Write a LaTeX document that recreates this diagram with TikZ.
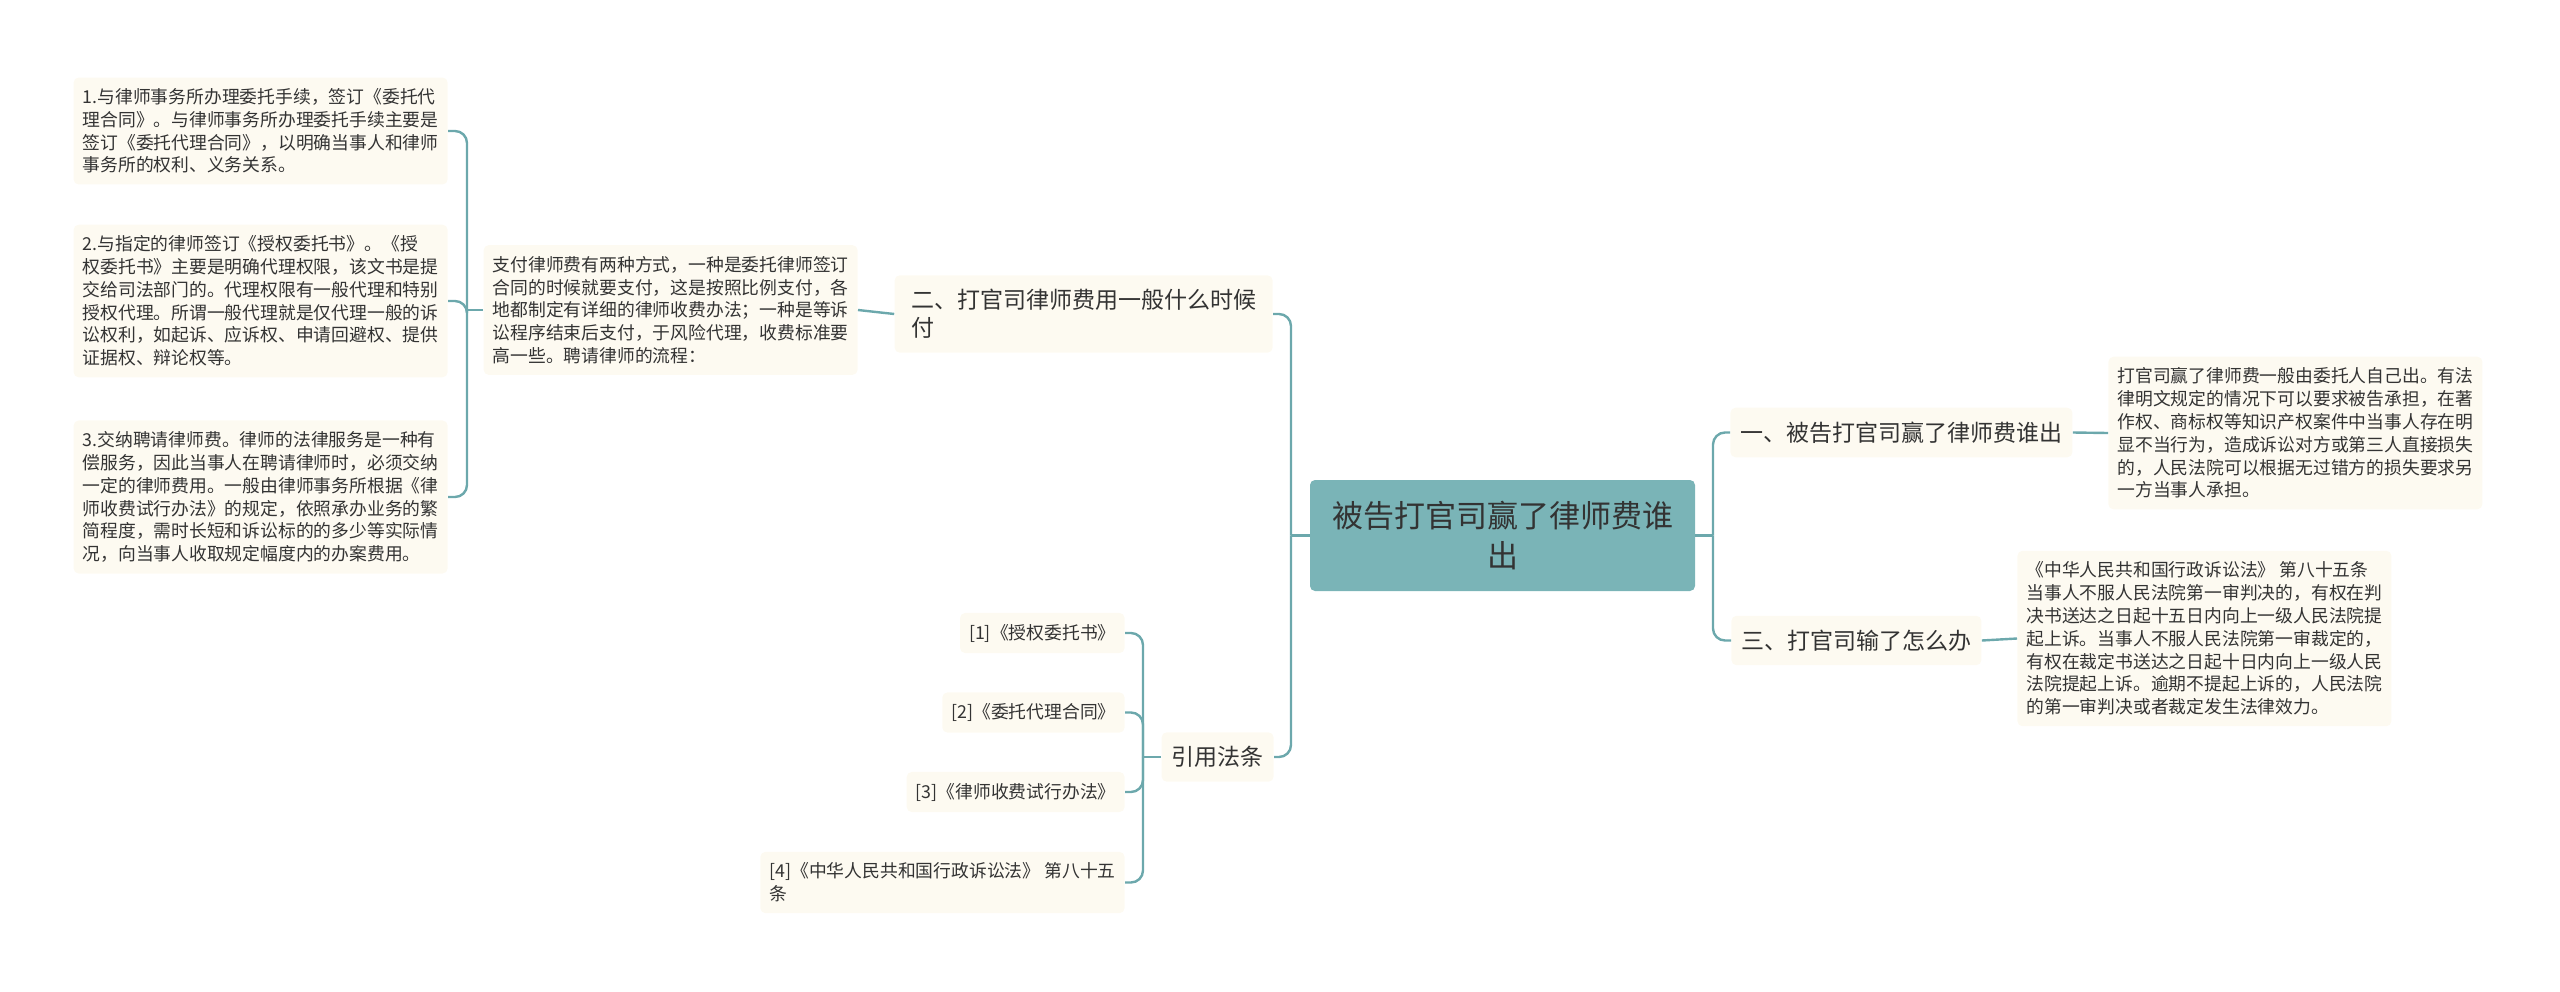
\documentclass[tikz,border=0pt]{standalone}
\usepackage{fontspec}
\setmainfont{Noto Sans CJK SC}
\usetikzlibrary{positioning,calc}
\definecolor{rootteal}{HTML}{7AB4B7}
\definecolor{linkteal}{HTML}{6CA8AC}
\definecolor{leafcream}{HTML}{FDFAF1}
\definecolor{inkgray}{HTML}{333333}

\begin{document}
\begin{tikzpicture}[x=0.5pt, y=-0.5pt,
  font=\fontsize{8.9}{11.4}\selectfont, text=inkgray,
  root/.style={fill=rootteal, rounded corners=2.5pt, align=center,
    font=\fontsize{15.5}{20}\selectfont, minimum width=192.5pt,
    minimum height=55.5pt, text=black!80},
  topic/.style={fill=leafcream, rounded corners=2.5pt, align=left,
    font=\fontsize{11.5}{14}\selectfont, inner xsep=5pt, inner ysep=7pt},
  leaf/.style={fill=leafcream, rounded corners=2.5pt, align=left,
    inner xsep=4.5pt, inner ysep=5.5pt},
  link/.style={draw=linkteal, line width=1.2pt, rounded corners=6pt}]
\useasboundingbox (0,0) rectangle (2560,991);
\node[root] (root) at (1502.5,535.5) {被告打官司赢了律师费谁\\出};
\node[topic, anchor=west] (win) at (1730,432.5) {一、被告打官司赢了律师费谁出};
\node[topic, anchor=west] (lose) at (1731,640.5) {三、打官司输了怎么办};
\node[topic, anchor=east, minimum width=189pt] (when) at (1273,314)
  {二、打官司律师费用一般什么时候\\付};
\node[topic, anchor=east] (cite) at (1274,757) {引用法条};
\node[leaf, anchor=west] (wintxt) at (2108,433)
  {打官司赢了律师费一般由委托人自己出。有法\\
  律明文规定的情况下可以要求被告承担，在著\\
  作权、商标权等知识产权案件中当事人存在明\\
  显不当行为，造成诉讼对方或第三人直接损失\\
  的，人民法院可以根据无过错方的损失要求另\\
  一方当事人承担。};
\node[leaf, anchor=west] (losetxt) at (2017,638.5)
  {《中华人民共和国行政诉讼法》 第八十五条\\
  当事人不服人民法院第一审判决的，有权在判\\
  决书送达之日起十五日内向上一级人民法院提\\
  起上诉。当事人不服人民法院第一审裁定的，\\
  有权在裁定书送达之日起十日内向上一级人民\\
  法院提起上诉。逾期不提起上诉的，人民法院\\
  的第一审判决或者裁定发生法律效力。};
\node[leaf, anchor=east] (whentxt) at (858,310)
  {支付律师费有两种方式，一种是委托律师签订\\
  合同的时候就要支付，这是按照比例支付，各\\
  地都制定有详细的律师收费办法；一种是等诉\\
  讼程序结束后支付，于风险代理，收费标准要\\
  高一些。聘请律师的流程：};
\node[leaf, anchor=east] (flow1) at (448,131)
  {1.与律师事务所办理委托手续，签订《委托代\\
  理合同》。与律师事务所办理委托手续主要是\\
  签订《委托代理合同》，以明确当事人和律师\\
  事务所的权利、义务关系。};
\node[leaf, anchor=east] (flow2) at (448,301)
  {2.与指定的律师签订《授权委托书》。《授\\
  权委托书》主要是明确代理权限，该文书是提\\
  交给司法部门的。代理权限有一般代理和特别\\
  授权代理。所谓一般代理就是仅代理一般的诉\\
  讼权利，如起诉、应诉权、申请回避权、提供\\
  证据权、辩论权等。};
\node[leaf, anchor=east] (flow3) at (448,497)
  {3.交纳聘请律师费。律师的法律服务是一种有\\
  偿服务，因此当事人在聘请律师时，必须交纳\\
  一定的律师费用。一般由律师事务所根据《律\\
  师收费试行办法》的规定，依照承办业务的繁\\
  简程度，需时长短和诉讼标的的多少等实际情\\
  况，向当事人收取规定幅度内的办案费用。};
\node[leaf, anchor=east] (ref1) at (1125,633) {[1]《授权委托书》};
\node[leaf, anchor=east] (ref2) at (1125,712.5) {[2]《委托代理合同》};
\node[leaf, anchor=east] (ref3) at (1125,792) {[3]《律师收费试行办法》};
\node[leaf, anchor=east] (ref4) at (1125,882.5)
  {[4]《中华人民共和国行政诉讼法》 第八十五\\条};
\coordinate (rootL) at (1291,535.5);
\coordinate (rootR) at (1713,535.5);
\coordinate (citeJ) at (1143,757);
\coordinate (flowJ) at (467,310);
\draw[link] (root.west) -- (rootL);
\draw[link] (rootL) |- (when.east);
\draw[link] (rootL) |- (cite.east);
\draw[link] (root.east) -- (rootR);
\draw[link] (rootR) |- (win.west);
\draw[link] (rootR) |- (lose.west);
\draw[link] (win.east) -- (wintxt.west);
\draw[link] (lose.east) -- (losetxt.west);
\draw[link] (when.west) -- (whentxt.east);
\draw[link] (whentxt.west) -- (flowJ);
\draw[link] (flowJ) |- (flow1.east);
\draw[link] (flowJ) |- (flow2.east);
\draw[link] (flowJ) |- (flow3.east);
\draw[link] (cite.west) -- (citeJ);
\draw[link] (citeJ) |- (ref1.east);
\draw[link] (citeJ) |- (ref2.east);
\draw[link] (citeJ) |- (ref3.east);
\draw[link] (citeJ) |- (ref4.east);
\end{tikzpicture}
\end{document}
